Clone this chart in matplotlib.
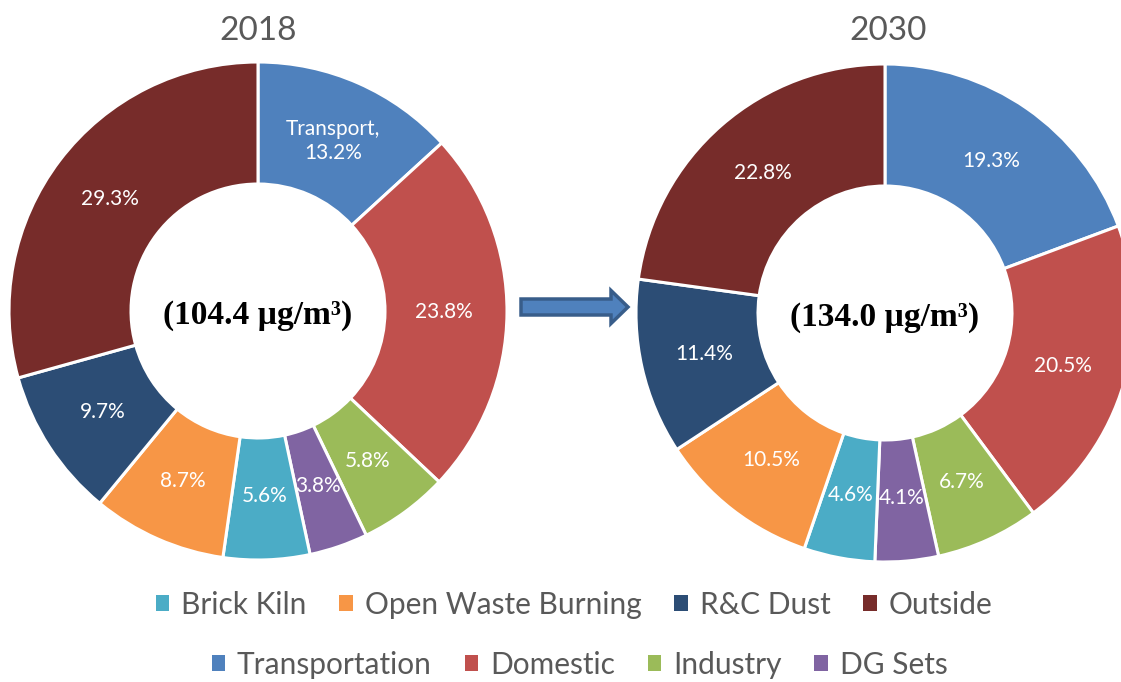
# Two donut charts of PM source shares, 2018 vs 2030

import matplotlib
matplotlib.use('Agg')
import numpy as np
import matplotlib.pyplot as plt
from matplotlib.patches import FancyArrow, Patch

# data, clockwise from 12 o'clock
sources = ['Transportation', 'Domestic', 'Industry', 'DG Sets',
           'Brick Kiln', 'Open Waste Burning', 'R&C Dust', 'Outside']
share_2018 = [13.2, 23.8, 5.8, 3.8, 5.6, 8.7, 9.7, 29.3]
share_2030 = [19.3, 20.5, 6.7, 4.1, 4.6, 10.5, 11.4, 22.8]
total_2018 = '(104.4 µg/m³)'
total_2030 = '(134.0 µg/m³)'
colors = ['#4F81BD', '#C0504D', '#9BBB59', '#8064A2',
          '#4BACC6', '#F79646', '#2C4D75', '#772C2A']

legend_row1 = ['Brick Kiln', 'Open Waste Burning', 'R&C Dust', 'Outside']
legend_row2 = ['Transportation', 'Domestic', 'Industry', 'DG Sets']

W, H = 1121, 682
grey = '#595959'
fig = plt.figure(figsize=(W / 100, H / 100), dpi=100)


def px_axes(cx, cy, r):
    # axes box from pixel centre/radius (y measured from top)
    return fig.add_axes([(cx - r) / W, (H - cy - r) / H, 2 * r / W, 2 * r / H])


def donut(ax, vals, total, first_label=None):
    wedges, _ = ax.pie(vals, colors=colors, startangle=90, counterclock=False,
                       radius=1.0,
                       wedgeprops=dict(width=0.49, edgecolor='white', linewidth=2.2))
    labels = []
    for w, v in zip(wedges, vals):
        ang = np.deg2rad((w.theta1 + w.theta2) / 2)
        t = ax.text(0.745 * np.cos(ang), 0.745 * np.sin(ang), f'{v:.1f}%',
                    ha='center', va='center', color='white', fontsize=15,
                    family='Lato')
        labels.append(t)
    if first_label:
        labels[0].set_text(first_label)
        labels[0].set_linespacing(1.25)
    ax.text(0, -0.02, total, ha='center', va='center', fontsize=24,
            fontweight='bold', family='Liberation Serif')
    ax.set_xlim(-1, 1)
    ax.set_ylim(-1, 1)
    ax.set_aspect('equal')
    ax.axis('off')


ax1 = px_axes(258, 311, 249)
donut(ax1, share_2018, total_2018, 'Transport,\n13.2%')
ax2 = px_axes(885, 313, 249)
donut(ax2, share_2030, total_2030)

fig.text(258 / W, 1 - 31 / H, '2018', ha='center', va='center',
         fontsize=24, color=grey, family='Lato')
fig.text(888 / W, 1 - 31 / H, '2030', ha='center', va='center',
         fontsize=24, color=grey, family='Lato')

# arrow between the donuts
arr = FancyArrow(521 / W, 1 - 307 / H, 107 / W, 0, width=16 / H,
                 head_width=33 / H, head_length=17 / W, length_includes_head=True,
                 transform=fig.transFigure, facecolor='#4F81BD',
                 edgecolor='#385D8A', linewidth=2.5)
fig.patches.append(arr)

cmap = dict(zip(sources, colors))
for row, y, xc in [(legend_row1, 605, 0.512), (legend_row2, 665, 0.517)]:
    handles = [Patch(facecolor=cmap[s], edgecolor='none') for s in row]
    fig.legend(handles, row, loc='center', bbox_to_anchor=(xc, 1 - y / H),
               ncol=4, frameon=False, handlelength=0.45, handleheight=0.45,
               handletextpad=0.4, columnspacing=1.1,
               prop=dict(family='Lato', size=21.5), labelcolor=grey)

fig.savefig('out.png', dpi=100)
